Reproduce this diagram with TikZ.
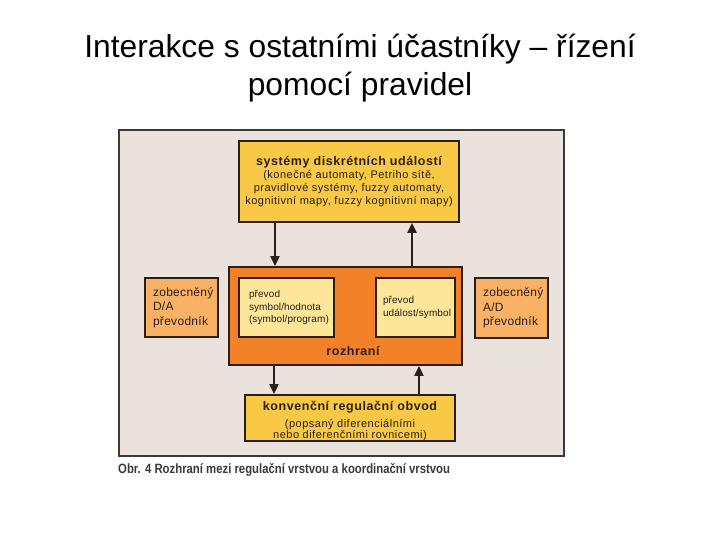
\documentclass[tikz,border=0pt]{standalone}
\usepackage{fontspec}
\setmainfont{Liberation Sans}
\newfontfamily\boxfont{Liberation Sans}[LetterSpace=4.5]
\newfontfamily\innerfont{Liberation Sans}[LetterSpace=1]
\newfontfamily\sidefont{Liberation Sans}[LetterSpace=2.5]
\usepackage{graphicx}
\usetikzlibrary{arrows.meta,positioning}
\definecolor{inkx}{HTML}{2A1F16}
\definecolor{panelx}{HTML}{E9E2DD}
\definecolor{goldx}{HTML}{F9C844}
\definecolor{orangex}{HTML}{F28128}
\definecolor{creamx}{HTML}{FDE59A}
\definecolor{peachx}{HTML}{F9B265}
\definecolor{capx}{HTML}{3A3A3A}
\tikzset{
  ar/.style={-{Triangle[length=10pt,width=9pt]},line width=2pt,inkx},
  box/.style={draw=inkx,line width=1.8pt,inner sep=0pt,text=inkx},
  head/.style={font=\boxfont\bfseries\fontsize{12.5}{15}\selectfont},
  small/.style={font=\boxfont\fontsize{11}{13}\selectfont},
  inner/.style={font=\innerfont\fontsize{10}{12.5}\selectfont},
  mid/.style={font=\sidefont\fontsize{12}{14.5}\selectfont}
}

\begin{document}
\begin{tikzpicture}[x=1pt,y=-1pt]
\useasboundingbox (0,0) rectangle (720,540);
\node[anchor=base,font=\fontsize{31.8}{38}\selectfont] (title1) at (360,58) {Interakce s ostatními účastníky – řízení};
\node[anchor=base,font=\fontsize{31.8}{38}\selectfont] (title2) at (360,96) {pomocí pravidel};
\node[draw=capx,line width=1.5pt,fill=panelx,minimum width=445,minimum height=326] (panel) at (341.5,293) {};
\node[box,fill=goldx,minimum width=220,minimum height=81,align=center,small] (sde) at (349,181.5)
  {{\boxfont\bfseries\fontsize{12.5}{13}\selectfont systémy diskrétních událostí}\\
   (konečné automaty, Petriho sítě,\\pravidlové systémy, fuzzy automaty,\\kognitivní mapy, fuzzy kognitivní mapy)};
\node[box,fill=orangex,minimum width=233,minimum height=98] (rozh) at (345.5,316) {};
\node[inkx,head,anchor=base] (rozhlbl) at (353,355) {rozhraní};
\node[box,fill=creamx,minimum width=95,minimum height=59,text width=75,align=left,inner] (inL) at (286.5,307.5)
  {převod\\symbol/hodnota\\(symbol/program)};
\node[box,fill=creamx,minimum width=79,minimum height=59,text width=65,align=left,inner] (inR) at (415.5,307.5)
  {převod\\událost/symbol};
\node[box,fill=peachx,minimum width=73,minimum height=59,text width=57,align=left,mid] (da) at (181.5,307.5)
  {zobecněný\\D/A\\převodník};
\node[box,fill=peachx,minimum width=73,minimum height=60,text width=57,align=left,mid] (ad) at (511.5,308)
  {zobecněný\\A/D\\převodník};
\node[box,fill=goldx,minimum width=210,minimum height=46] (reg) at (350,418) {};
\node[inkx,head,anchor=base] (reghead) at (350,410.5) {konvenční regulační obvod};
\node[inkx,small,align=center,anchor=north,font=\boxfont\fontsize{11}{11.5}\selectfont] (regtxt) at (350,415.5) {(popsaný diferenciálními\\nebo diferenčními rovnicemi)};
\draw[ar] ([xshift=-74pt]sde.south) -- ([xshift=-74pt]sde.south |- rozh.north);
\draw[ar] ([xshift=63pt]sde.south |- rozh.north) -- ([xshift=63pt]sde.south);
\draw[ar] ([xshift=-76pt]reg.north |- rozh.south) -- ([xshift=-76pt]reg.north);
\draw[ar] ([xshift=69pt]reg.north) -- ([xshift=69pt]reg.north |- rozh.south);
\node[anchor=base west,capx,inner sep=0pt,font=\bfseries\fontsize{13.5}{16}\selectfont] (cap) at (118,473)
  {\scalebox{0.84}[1]{Obr. 4 Rozhraní mezi regulační vrstvou a koordinační vrstvou}};
\end{tikzpicture}
\end{document}
